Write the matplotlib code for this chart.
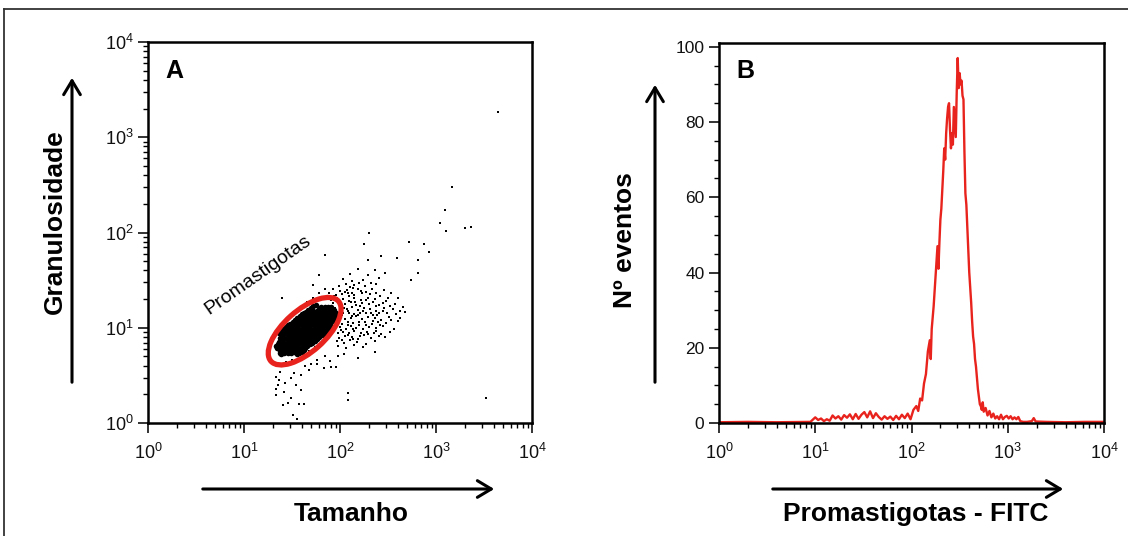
import numpy as np
import matplotlib.pyplot as plt
from matplotlib.patches import Ellipse, FancyArrowPatch
from matplotlib.lines import Line2D
from matplotlib.ticker import FixedLocator, FixedFormatter, LogLocator, MultipleLocator, NullFormatter

plt.rcParams['font.family'] = ['Liberation Sans', 'DejaVu Sans']

# ---- data (log10 units for the flow cytometry axes) ----
decades = [0, 1, 2, 3, 4]
count_ticks = [0, 20, 40, 60, 80, 100]

# dense promastigote population (log10 size, log10 granularity)
core_pts = [
    (1.39, 0.72), (1.37, 0.76), (1.34, 0.79), (1.33, 0.81), (1.38, 0.74),
    (1.42, 0.73), (1.40, 0.76), (1.37, 0.80), (1.35, 0.83),
    (1.46, 0.73), (1.44, 0.76), (1.41, 0.79), (1.39, 0.82), (1.36, 0.85), (1.42, 0.78),
    (1.49, 0.74), (1.47, 0.77), (1.44, 0.80), (1.42, 0.83), (1.39, 0.86), (1.38, 0.89),
    (1.52, 0.75), (1.50, 0.78), (1.47, 0.81), (1.45, 0.84), (1.42, 0.88), (1.40, 0.91), (1.49, 0.80),
    (1.54, 0.77), (1.52, 0.80), (1.50, 0.83), (1.47, 0.86), (1.45, 0.89), (1.42, 0.93),
    (1.57, 0.78), (1.55, 0.81), (1.53, 0.84), (1.50, 0.87), (1.48, 0.90), (1.45, 0.94), (1.44, 0.96),
    (1.60, 0.79), (1.57, 0.83), (1.55, 0.86), (1.53, 0.89), (1.50, 0.92), (1.48, 0.95), (1.45, 0.98),
    (1.63, 0.80), (1.60, 0.84), (1.58, 0.87), (1.56, 0.90), (1.53, 0.93), (1.51, 0.96), (1.48, 0.99),
    (1.65, 0.82), (1.63, 0.85), (1.60, 0.89), (1.58, 0.92), (1.56, 0.95), (1.53, 0.98), (1.51, 1.01),
    (1.67, 0.85), (1.65, 0.88), (1.62, 0.91), (1.60, 0.94), (1.57, 0.98), (1.55, 1.01), (1.52, 1.04),
    (1.69, 0.87), (1.67, 0.90), (1.65, 0.93), (1.62, 0.96), (1.60, 0.99), (1.57, 1.03), (1.55, 1.06),
    (1.72, 0.88), (1.70, 0.91), (1.68, 0.94), (1.65, 0.97), (1.63, 1.00), (1.60, 1.04), (1.58, 1.07),
    (1.75, 0.90), (1.72, 0.93), (1.70, 0.96), (1.68, 0.99), (1.65, 1.02), (1.63, 1.05), (1.60, 1.09),
    (1.77, 0.92), (1.74, 0.95), (1.72, 0.98), (1.69, 1.02), (1.67, 1.05), (1.64, 1.08), (1.62, 1.11),
    (1.79, 0.94), (1.77, 0.97), (1.74, 1.00), (1.72, 1.04), (1.69, 1.07), (1.67, 1.10), (1.64, 1.13),
    (1.82, 0.95), (1.80, 0.98), (1.77, 1.01), (1.75, 1.05), (1.72, 1.08), (1.70, 1.11), (1.67, 1.14),
    (1.84, 0.98), (1.81, 1.01), (1.79, 1.04), (1.76, 1.07), (1.74, 1.10), (1.72, 1.14), (1.69, 1.17),
    (1.86, 0.99), (1.84, 1.03), (1.81, 1.06), (1.79, 1.09), (1.76, 1.12), (1.74, 1.15), (1.72, 1.18),
    (1.88, 1.02), (1.85, 1.05), (1.83, 1.08), (1.81, 1.12), (1.78, 1.15), (1.76, 1.18),
    (1.90, 1.04), (1.88, 1.07), (1.85, 1.10), (1.83, 1.13), (1.81, 1.17), (1.78, 1.20),
    (1.92, 1.07), (1.90, 1.10), (1.87, 1.13), (1.85, 1.16), (1.82, 1.19), (1.80, 1.22),
    (1.94, 1.09), (1.91, 1.12), (1.89, 1.15), (1.87, 1.19), (1.84, 1.22),
    (1.95, 1.12), (1.93, 1.16), (1.90, 1.19), (1.88, 1.22),
    (1.96, 1.16), (1.94, 1.19), (1.91, 1.22),
    # outer rim of the population, upper-left side
    (1.36, 0.95), (1.39, 0.97), (1.41, 0.99), (1.44, 1.01), (1.46, 1.03), (1.48, 1.04),
    (1.51, 1.06), (1.53, 1.08), (1.55, 1.10), (1.58, 1.12), (1.60, 1.14), (1.63, 1.15),
    (1.65, 1.17), (1.67, 1.19), (1.70, 1.21), (1.72, 1.23), (1.75, 1.24),
    # outer rim, lower-right side
    (1.55, 0.72), (1.57, 0.73), (1.59, 0.75), (1.62, 0.77), (1.64, 0.79), (1.66, 0.81),
    (1.69, 0.83), (1.71, 0.84), (1.74, 0.86), (1.76, 0.88), (1.78, 0.90), (1.81, 0.92),
    (1.83, 0.93), (1.86, 0.95), (1.88, 0.97), (1.90, 0.99), (1.93, 1.01),
]

# sparser events around the population, plus outliers
cloud_pts = [
    (1.98, 0.81), (2.06, 0.79), (2.15, 0.82), (2.24, 0.80),
    (1.97, 0.86), (2.04, 0.84), (2.10, 0.87), (2.18, 0.85), (2.27, 0.83), (2.36, 0.86),
    (1.99, 0.89), (2.05, 0.91), (2.12, 0.90), (2.19, 0.88), (2.25, 0.92), (2.32, 0.89), (2.41, 0.91), (2.47, 0.90),
    (1.98, 0.94), (2.03, 0.96), (2.09, 0.95), (2.15, 0.97), (2.22, 0.94), (2.28, 0.96), (2.35, 0.95), (2.43, 0.93), (2.52, 0.96),
    (2.00, 1.01), (2.06, 0.99), (2.11, 1.02), (2.17, 1.00), (2.24, 0.99), (2.30, 1.01), (2.37, 1.00), (2.45, 1.02), (2.56, 0.99),
    (2.02, 1.04), (2.08, 1.06), (2.14, 1.05), (2.20, 1.03), (2.26, 1.06), (2.33, 1.04), (2.40, 1.06), (2.48, 1.05), (2.60, 1.07),
    (1.99, 1.11), (2.05, 1.09), (2.11, 1.10), (2.17, 1.12), (2.23, 1.09), (2.29, 1.11), (2.36, 1.10), (2.43, 1.08), (2.51, 1.11), (2.63, 1.10),
    (1.97, 1.14), (2.03, 1.16), (2.09, 1.15), (2.15, 1.14), (2.21, 1.16), (2.27, 1.15), (2.34, 1.13), (2.41, 1.16), (2.49, 1.15), (2.58, 1.14), (2.68, 1.17),
    (1.95, 1.21), (2.01, 1.19), (2.07, 1.20), (2.13, 1.22), (2.19, 1.19), (2.25, 1.21), (2.31, 1.20), (2.38, 1.18), (2.46, 1.21), (2.55, 1.20), (2.66, 1.22),
    (1.93, 1.26), (1.99, 1.24), (2.05, 1.25), (2.11, 1.27), (2.17, 1.24), (2.23, 1.26), (2.30, 1.25), (2.37, 1.23), (2.45, 1.26), (2.57, 1.25),
    (1.91, 1.29), (1.97, 1.31), (2.03, 1.30), (2.09, 1.28), (2.15, 1.31), (2.22, 1.29), (2.29, 1.31), (2.36, 1.30), (2.48, 1.28), (2.60, 1.31),
    (1.89, 1.36), (1.96, 1.34), (2.02, 1.35), (2.08, 1.37), (2.15, 1.34), (2.23, 1.36), (2.31, 1.35), (2.42, 1.33), (2.53, 1.36),
    (1.93, 1.41), (2.00, 1.39), (2.07, 1.40), (2.14, 1.42), (2.22, 1.39), (2.33, 1.41), (2.46, 1.40),
    (1.99, 1.44), (2.06, 1.46), (2.15, 1.45), (2.26, 1.44), (2.38, 1.46),
    (2.03, 1.51), (2.12, 1.49), (2.24, 1.50), (2.41, 1.52),
    (2.10, 1.56), (2.29, 1.55), (2.47, 1.57),
    (2.19, 1.62), (2.36, 1.61),
    # second pass through the right-hand lobe
    (2.02, 0.87), (2.08, 0.92), (2.14, 0.88), (2.21, 0.91), (2.29, 0.93), (2.38, 0.97),
    (2.01, 0.98), (2.08, 1.03), (2.14, 0.99), (2.20, 1.06), (2.27, 1.03), (2.34, 1.07),
    (2.42, 1.03), (2.53, 1.08), (2.02, 1.13), (2.08, 1.18), (2.13, 1.12), (2.19, 1.13),
    (2.24, 1.18), (2.32, 1.16), (2.39, 1.13), (2.45, 1.18), (2.52, 1.23), (2.62, 1.18),
    (1.98, 1.28), (2.04, 1.21), (2.09, 1.33), (2.16, 1.27), (2.21, 1.23), (2.27, 1.29),
    (2.34, 1.27), (2.41, 1.24), (2.50, 1.31), (2.05, 1.38), (2.12, 1.36), (2.19, 1.41),
    (2.27, 1.38), (2.37, 1.36), (2.10, 1.43), (2.20, 1.47), (2.32, 1.47), (1.94, 1.33),
    # edges of the gated population
    (1.30, 0.62), (1.36, 0.60), (1.44, 0.64), (1.50, 0.66), (1.56, 0.70), (1.62, 0.72),
    (1.68, 0.76), (1.74, 0.80), (1.80, 0.84), (1.86, 0.88), (1.92, 0.94), (1.98, 0.70),
    (2.04, 0.72), (1.90, 0.65), (1.84, 0.70), (1.76, 0.66), (1.70, 0.62), (1.64, 0.60),
    (1.26, 0.84), (1.30, 0.92), (1.36, 0.98), (1.42, 1.06), (1.48, 1.12), (1.54, 1.17),
    (1.60, 1.22), (1.66, 1.27), (1.72, 1.31), (1.78, 1.36), (1.84, 1.41), (1.40, 1.31),
    (1.78, 1.55), (1.72, 1.45), (1.88, 1.30),
    # below the gate
    (1.33, 0.48), (1.36, 0.45), (1.35, 0.40), (1.33, 0.36), (1.33, 0.29), (1.41, 0.19),
    (1.46, 0.21), (1.51, 0.08), (1.55, 0.04), (1.57, 0.20), (1.62, 0.20), (1.43, 0.42),
    (1.49, 0.47), (1.54, 0.40), (1.59, 0.35), (1.42, 0.33), (1.38, 0.54), (1.59, 0.50),
    (1.68, 0.56), (1.83, 0.58), (1.91, 0.59), (1.96, 0.59), (1.76, 0.62), (1.49, 0.26),
    (1.52, 0.53), (2.19, 0.68), (2.36, 0.75),
    # outliers
    (3.65, 3.26), (3.17, 2.48), (3.09, 2.24), (3.04, 2.10), (3.10, 2.02), (3.30, 2.05),
    (3.36, 2.06), (2.72, 1.90), (2.87, 1.88), (2.93, 1.80), (2.30, 1.99), (2.25, 1.88),
    (2.43, 1.75), (2.59, 1.73), (2.29, 1.71), (2.81, 1.71), (2.81, 1.58), (2.74, 1.50),
    (3.52, 0.26), (2.08, 0.31), (2.08, 0.24), (1.84, 1.76),
]

# FITC histogram (log10 channel, number of events)
log_fitc = [
    0.00, 0.30, 0.60, 0.90, 0.95,
    1.00, 1.03, 1.06, 1.09, 1.12, 1.15, 1.18, 1.21, 1.24, 1.27,
    1.30, 1.33, 1.36, 1.39, 1.42, 1.45, 1.48, 1.51, 1.54, 1.57,
    1.60, 1.63, 1.66, 1.69, 1.72, 1.75, 1.78, 1.81, 1.84, 1.87,
    1.90, 1.93, 1.96, 1.99,
    2.02, 2.05, 2.07, 2.09, 2.11, 2.13, 2.15, 2.17, 2.19, 2.20,
    2.21, 2.22, 2.23, 2.25, 2.26, 2.27, 2.28, 2.29, 2.30, 2.31,
    2.32, 2.33, 2.34, 2.35, 2.36, 2.37, 2.38, 2.39, 2.40, 2.41,
    2.42, 2.43, 2.44, 2.45, 2.46, 2.47, 2.48, 2.49, 2.50, 2.51,
    2.52, 2.53, 2.54, 2.55, 2.56, 2.57, 2.58, 2.59, 2.60, 2.61,
    2.62, 2.63, 2.64, 2.65, 2.66, 2.67, 2.68, 2.69, 2.70, 2.71,
    2.72, 2.73, 2.74, 2.75, 2.77, 2.79, 2.81, 2.83, 2.85, 2.87,
    2.89, 2.91, 2.93, 2.95, 2.97, 2.99, 3.01, 3.03, 3.05, 3.07,
    3.09, 3.11, 3.13, 3.16, 3.20, 3.25, 3.27, 3.29, 3.40, 3.60,
    3.80, 4.00,
]
events = [
    0.2, 0.3, 0.2, 0.3, 0.3,
    1.5, 0.8, 1.2, 0.5, 1.0, 0.6, 2.0, 1.2, 1.8, 0.9,
    2.1, 1.4, 2.3, 1.0, 2.4, 1.1, 2.2, 2.9, 1.5, 3.1,
    1.3, 2.6, 1.6, 0.9, 1.8, 1.1, 1.7, 0.8, 1.9, 1.0,
    2.2, 1.3, 2.5, 1.0,
    3.5, 4.5, 3.2, 6.5, 6.0, 10.5, 13, 19, 22, 17,
    25, 28, 31, 39, 43, 47, 41, 48, 54, 57,
    62, 67, 73, 70, 77, 81, 84, 85, 78, 73,
    77, 74, 84, 80, 76, 88, 97, 89, 93, 90,
    91, 87, 86, 72, 61, 58, 52, 46, 40, 36,
    32, 27, 23, 21, 17, 15, 12, 9, 7, 5,
    4.5, 3.5, 5.5, 3, 4, 2, 3.2, 1.5, 2.5, 1.2,
    1.8, 1.0, 2.2, 1.0, 1.6, 1.9, 1.2, 1.8, 1.0, 1.5,
    1.0, 1.6, 0.5, 0.3, 0.3, 0.5, 1.3, 0.4, 0.3, 0.2,
    0.3, 0.3,
]

RED = '#e8231d'
W, H = 1128, 536


def fx(px):
    return px / W


def fy(py):
    return 1 - py / H


fig = plt.figure(figsize=(W / 100, H / 100), dpi=100)
axA = fig.add_axes([fx(148), fy(423), (532 - 148) / W, (423 - 42) / H])
axB = fig.add_axes([fx(719), fy(423), (1104 - 719) / W, (423 - 43) / H])

dec_labels = [r'$\mathregular{10^{%d}}$' % d for d in decades]

# ---- panel A: dot plot ----
core = 10.0 ** np.array(core_pts)
cloud = 10.0 ** np.array(cloud_pts)
axA.scatter(cloud[:, 0], cloud[:, 1], s=3.2, marker='s', color='black', linewidths=0)
axA.scatter(core[:, 0], core[:, 1], s=16, marker='o', color='black', linewidths=0)
axA.set_xscale('log')
axA.set_yscale('log')
axA.set_xlim(1, 1e4)
axA.set_ylim(1, 1e4)
for axis in (axA.xaxis, axA.yaxis):
    axis.set_major_locator(FixedLocator(10.0 ** np.array(decades)))
    axis.set_major_formatter(FixedFormatter(dec_labels))
    axis.set_minor_locator(LogLocator(base=10, subs=range(2, 10)))
    axis.set_minor_formatter(NullFormatter())

gate = Ellipse((0.408, 0.241), width=0.236, height=0.108, angle=42,
               transform=axA.transAxes, fill=False, ec=RED, lw=3.8, zorder=3)
axA.add_patch(gate)
axA.text(0.286, 0.388, 'Promastigotas', transform=axA.transAxes, rotation=35,
         ha='center', va='center', fontsize=14)
axA.text(0.045, 0.925, 'A', transform=axA.transAxes, fontsize=18,
         fontweight='bold', va='center')

# ---- panel B: histogram ----
axB.plot(10.0 ** np.array(log_fitc), events, color=RED, lw=1.7)
axB.set_xscale('log')
axB.set_xlim(1, 1e4)
axB.set_ylim(0, 101)
axB.xaxis.set_major_locator(FixedLocator(10.0 ** np.array(decades)))
axB.xaxis.set_major_formatter(FixedFormatter(dec_labels))
axB.xaxis.set_minor_locator(LogLocator(base=10, subs=range(2, 10)))
axB.xaxis.set_minor_formatter(NullFormatter())
axB.yaxis.set_major_locator(FixedLocator(count_ticks))
axB.yaxis.set_minor_locator(MultipleLocator(5))
axB.text(0.045, 0.925, 'B', transform=axB.transAxes, fontsize=18,
         fontweight='bold', va='center')

for ax in (axA, axB):
    for sp in ax.spines.values():
        sp.set_linewidth(1.8)
    ax.tick_params(which='major', direction='out', length=7.5, width=1.2,
                   labelsize=13, pad=3, top=False, right=False, colors='#111111')
    ax.tick_params(which='minor', direction='out', length=3.5, width=1,
                   top=False, right=False)
    ax.tick_params(axis='x', which='major', pad=7)
axB.tick_params(axis='y', labelsize=12.5)

# ---- axis captions with arrows ----
fig.text(fx(55), fy(222), 'Granulosidade', rotation=90, ha='center', va='center',
         fontsize=19, fontweight='bold')
fig.text(fx(351), fy(514), 'Tamanho', ha='center', va='center',
         fontsize=19, fontweight='bold')
fig.text(fx(625), fy(240), 'Nº eventos', rotation=90, ha='center', va='center',
         fontsize=19, fontweight='bold')
fig.text(fx(916), fy(514), 'Promastigotas - FITC', ha='center', va='center',
         fontsize=19, fontweight='bold')

arrows = [((72, 385), (72, 75)), ((200, 489), (497, 489)),
          ((655, 385), (655, 82)), ((770, 489), (1066, 489))]
for (x0, y0), (x1, y1) in arrows:
    fig.add_artist(FancyArrowPatch((fx(x0), fy(y0)), (fx(x1), fy(y1)),
                                   transform=fig.transFigure,
                                   arrowstyle='->,head_length=0.5,head_width=0.3',
                                   mutation_scale=20, lw=2.2, color='black'))

# outer frame of the original figure
fig.add_artist(Line2D([fx(4), 1], [fy(9), fy(9)], transform=fig.transFigure,
                      color='#333333', lw=1.3))
fig.add_artist(Line2D([fx(4), fx(4)], [fy(9), 0], transform=fig.transFigure,
                      color='#333333', lw=1.3))

fig.savefig('out.png', dpi=100)
